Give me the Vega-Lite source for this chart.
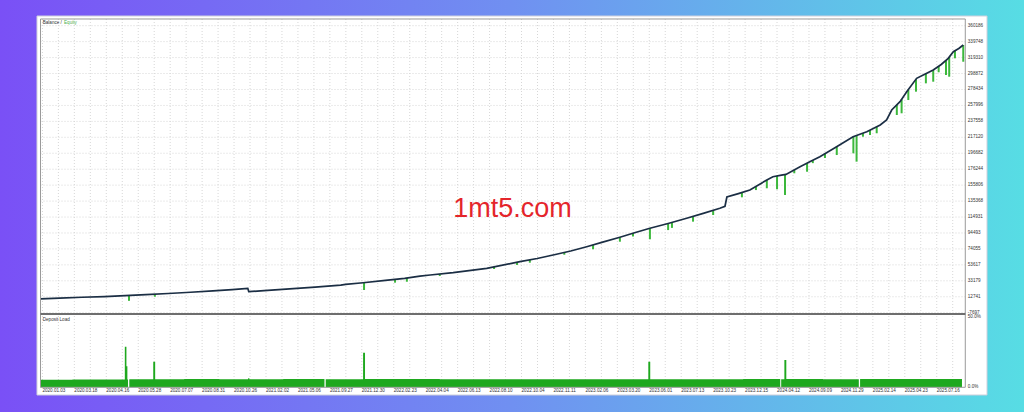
{
  "$schema": "https://vega.github.io/schema/vega-lite/v6.json",
  "width": 1024,
  "height": 412,
  "autosize": {"type": "none"},
  "padding": 0,
  "background": "#7090f1",
  "config": {"view": {"stroke": null}, "text": {"font": "Liberation Sans"}},
  "datasets": {
    "balance": [
      {"n": 0, "balance": 10000}, {"n": 60, "balance": 11000}, {"n": 130, "balance": 12100}, {"n": 200, "balance": 13000},
      {"n": 265, "balance": 14100}, {"n": 330, "balance": 15400}, {"n": 400, "balance": 16900}, {"n": 470, "balance": 18500},
      {"n": 540, "balance": 20400}, {"n": 600, "balance": 22000}, {"n": 649, "balance": 23600}, {"n": 652, "balance": 19300},
      {"n": 700, "balance": 20500}, {"n": 780, "balance": 22800}, {"n": 860, "balance": 25200}, {"n": 940, "balance": 27700},
      {"n": 955, "balance": 28700}, {"n": 1010, "balance": 30700}, {"n": 1080, "balance": 33700}, {"n": 1140, "balance": 36400},
      {"n": 1188, "balance": 39300}, {"n": 1220, "balance": 40600}, {"n": 1292, "balance": 43600}, {"n": 1397, "balance": 49200},
      {"n": 1501, "balance": 57700}, {"n": 1555, "balance": 61800}, {"n": 1605, "balance": 66300}, {"n": 1660, "balance": 71400},
      {"n": 1710, "balance": 76900}, {"n": 1760, "balance": 82700}, {"n": 1814, "balance": 89000}, {"n": 1860, "balance": 94800},
      {"n": 1908, "balance": 100500}, {"n": 1965, "balance": 106600}, {"n": 2023, "balance": 113300}, {"n": 2075, "balance": 119600},
      {"n": 2127, "balance": 126100}, {"n": 2143, "balance": 128700}, {"n": 2149, "balance": 140600}, {"n": 2185, "balance": 145000},
      {"n": 2221, "balance": 149600}, {"n": 2274, "balance": 162400}, {"n": 2293, "balance": 166600}, {"n": 2320, "balance": 168700},
      {"n": 2334, "balance": 169500}, {"n": 2378, "balance": 179400}, {"n": 2410, "balance": 186000}, {"n": 2440, "balance": 192300},
      {"n": 2490, "balance": 204500}, {"n": 2544, "balance": 217900}, {"n": 2587, "balance": 224300}, {"n": 2629, "balance": 232900},
      {"n": 2649, "balance": 239300}, {"n": 2665, "balance": 252100}, {"n": 2691, "balance": 262800}, {"n": 2712, "balance": 275600},
      {"n": 2743, "balance": 292700}, {"n": 2770, "balance": 298400}, {"n": 2795, "balance": 303400}, {"n": 2820, "balance": 310500},
      {"n": 2842, "balance": 318400}, {"n": 2858, "balance": 326900}, {"n": 2875, "balance": 331000}, {"n": 2889, "balance": 335400}
    ],
    "equity": [
      {"n": 277, "top": 14340, "low": 7500}, {"n": 358, "top": 16000, "low": 12800}, {"n": 1013, "top": 30830, "low": 21400},
      {"n": 1110, "top": 35050, "low": 30800}, {"n": 1147, "top": 36820, "low": 32000}, {"n": 1250, "top": 41800, "low": 39300},
      {"n": 1420, "top": 50900, "low": 48300}, {"n": 1492, "top": 56960, "low": 53500}, {"n": 1532, "top": 60050, "low": 56400},
      {"n": 1640, "top": 69800, "low": 66600}, {"n": 1730, "top": 79200, "low": 73600}, {"n": 1814, "top": 89000, "low": 83300},
      {"n": 1855, "top": 94170, "low": 90000}, {"n": 1908, "top": 100500, "low": 86400}, {"n": 1965, "top": 106600, "low": 98200},
      {"n": 1977, "top": 107990, "low": 101000}, {"n": 2043, "top": 115720, "low": 109000}, {"n": 2106, "top": 123480, "low": 117500},
      {"n": 2196, "top": 146400, "low": 140200}, {"n": 2240, "top": 153800, "low": 149500}, {"n": 2274, "top": 162400, "low": 151800},
      {"n": 2306, "top": 167600, "low": 150500}, {"n": 2331, "top": 169300, "low": 143200}, {"n": 2360, "top": 175400, "low": 171000},
      {"n": 2400, "top": 183900, "low": 173000}, {"n": 2418, "top": 187700, "low": 184000},
      {"n": 2456, "top": 196200, "low": 190600}, {"n": 2493, "top": 205300, "low": 194400}, {"n": 2545, "top": 217950, "low": 196600},
      {"n": 2555, "top": 219500, "low": 185900}, {"n": 2575, "top": 222500, "low": 217900}, {"n": 2597, "top": 226350, "low": 220100},
      {"n": 2618, "top": 230600, "low": 222300}, {"n": 2681, "top": 258700, "low": 245700}, {"n": 2696, "top": 265850, "low": 247900},
      {"n": 2717, "top": 278360, "low": 264900}, {"n": 2741, "top": 291600, "low": 275600}, {"n": 2772, "top": 298800, "low": 286300},
      {"n": 2795, "top": 303400, "low": 288400}, {"n": 2812, "top": 308200, "low": 300500}, {"n": 2835, "top": 315900, "low": 297000},
      {"n": 2845, "top": 320000, "low": 294800}, {"n": 2863, "top": 328100, "low": 318400}, {"n": 2889, "top": 335400, "low": 314000}
    ],
    "load": [
      {"n": 0, "load": 0.054}, {"n": 100, "load": 0.056}, {"n": 190, "load": 0.055}, {"n": 264, "load": 0.29},
      {"n": 269, "load": 0.15}, {"n": 272, "load": 0.056}, {"n": 274, "load": 0}, {"n": 278, "load": 0.058},
      {"n": 353, "load": 0.183}, {"n": 359, "load": 0.058}, {"n": 450, "load": 0.059}, {"n": 560, "load": 0.058},
      {"n": 650, "load": 0.064}, {"n": 654, "load": 0.058}, {"n": 760, "load": 0.059}, {"n": 889, "load": 0},
      {"n": 893, "load": 0.058}, {"n": 1010, "load": 0.247}, {"n": 1016, "load": 0.06}, {"n": 1120, "load": 0.059},
      {"n": 1250, "load": 0.058}, {"n": 1380, "load": 0.057}, {"n": 1500, "load": 0.057}, {"n": 1620, "load": 0.058},
      {"n": 1760, "load": 0.058}, {"n": 1903, "load": 0.183}, {"n": 1909, "load": 0.058}, {"n": 2050, "load": 0.058},
      {"n": 2200, "load": 0.059}, {"n": 2316, "load": 0}, {"n": 2319, "load": 0.058}, {"n": 2329, "load": 0.195},
      {"n": 2335, "load": 0.06}, {"n": 2450, "load": 0.058}, {"n": 2562, "load": 0}, {"n": 2566, "load": 0.059},
      {"n": 2700, "load": 0.06}, {"n": 2800, "load": 0.059}, {"n": 2885, "load": 0.059}
    ],
    "gx": [
      {"n": 6}, {"n": 56}, {"n": 106}, {"n": 156}, {"n": 206}, {"n": 256}, {"n": 306}, {"n": 356}, {"n": 406}, {"n": 456},
      {"n": 506}, {"n": 556}, {"n": 606}, {"n": 656}, {"n": 706}, {"n": 756}, {"n": 806}, {"n": 856}, {"n": 906}, {"n": 956},
      {"n": 1006}, {"n": 1056}, {"n": 1106}, {"n": 1156}, {"n": 1206}, {"n": 1256}, {"n": 1306}, {"n": 1356}, {"n": 1406}, {"n": 1456},
      {"n": 1506}, {"n": 1556}, {"n": 1606}, {"n": 1656}, {"n": 1706}, {"n": 1756}, {"n": 1806}, {"n": 1856}, {"n": 1906}, {"n": 1956},
      {"n": 2006}, {"n": 2056}, {"n": 2106}, {"n": 2156}, {"n": 2206}, {"n": 2256}, {"n": 2306}, {"n": 2356}, {"n": 2406}, {"n": 2456},
      {"n": 2506}, {"n": 2556}, {"n": 2606}, {"n": 2656}, {"n": 2706}, {"n": 2756}, {"n": 2806}, {"n": 2856}
    ],
    "gy": [
      {"v": -7697}, {"v": 12741}, {"v": 33179}, {"v": 53617}, {"v": 74055}, {"v": 94493}, {"v": 114931}, {"v": 135368},
      {"v": 155806}, {"v": 176244}, {"v": 196682}, {"v": 217120}, {"v": 237558}, {"v": 257996}, {"v": 278434}, {"v": 298872},
      {"v": 319310}, {"v": 339748}, {"v": 360186}
    ],
    "xlabels": [
      {"n": 6, "d": "2020.01.03"}, {"n": 106, "d": "2020.03.18"}, {"n": 206, "d": "2020.04.16"}, {"n": 306, "d": "2020.05.28"},
      {"n": 406, "d": "2020.07.07"}, {"n": 506, "d": "2020.08.31"}, {"n": 606, "d": "2020.10.26"}, {"n": 706, "d": "2021.02.02"},
      {"n": 806, "d": "2021.05.06"}, {"n": 906, "d": "2021.09.27"}, {"n": 1006, "d": "2021.12.30"}, {"n": 1106, "d": "2022.02.23"},
      {"n": 1206, "d": "2022.04.04"}, {"n": 1306, "d": "2022.06.13"}, {"n": 1406, "d": "2022.08.10"}, {"n": 1506, "d": "2022.10.04"},
      {"n": 1606, "d": "2022.11.11"}, {"n": 1706, "d": "2023.02.06"}, {"n": 1806, "d": "2023.03.20"}, {"n": 1906, "d": "2023.06.01"},
      {"n": 2006, "d": "2023.07.13"}, {"n": 2106, "d": "2023.10.23"}, {"n": 2206, "d": "2023.12.15"}, {"n": 2306, "d": "2024.04.12"},
      {"n": 2406, "d": "2024.09.09"}, {"n": 2506, "d": "2024.11.29"}, {"n": 2606, "d": "2025.02.14"}, {"n": 2706, "d": "2025.04.23"},
      {"n": 2806, "d": "2025.07.16"}
    ],
    "loadlabels": [{"p": 0, "t": "0.0%"}, {"p": 0.5, "t": "50.0%"}]
  },
  "resolve": {"scale": {"y": "independent"}, "axis": {"y": "independent"}},
  "layer": [
    {
      "layer": [
        {
          "data": {"values": [{}]},
          "mark": {"type": "rect", "fill": {"gradient": "linear", "x1": 0, "y1": 0, "x2": 1, "y2": 0, "stops": [{"offset": 0, "color": "#7a50f6"}, {"offset": 0.5, "color": "#7090f1"}, {"offset": 1, "color": "#57dde4"}]}},
          "encoding": {
            "x": {"datum": -126.8, "type": "quantitative", "scale": {"domain": [-126.8, 3079.2], "nice": false, "zero": false}, "axis": null},
            "x2": {"datum": 3079.2},
            "y": {"datum": -134980, "type": "quantitative", "scale": {"domain": [-134980, 393122], "nice": false, "zero": false}, "axis": null},
            "y2": {"datum": 393122}
          }
        },
        {
          "data": {"values": [{}]},
          "mark": {"type": "rect", "fill": "#ffffff", "stroke": "#cfd0dc", "strokeWidth": 1},
          "encoding": {
            "x": {"datum": -10.96, "type": "quantitative", "scale": {"domain": [-126.8, 3079.2], "nice": false, "zero": false}, "axis": null},
            "x2": {"datum": 2963.4},
            "y": {"datum": 372607, "type": "quantitative", "scale": {"domain": [-134980, 393122], "nice": false, "zero": false}, "axis": null},
            "y2": {"datum": -113189}
          }
        },
        {
          "data": {"name": "gy"},
          "mark": {"type": "rule", "color": "#d6d6d6", "strokeWidth": 1, "strokeDash": [1, 2]},
          "encoding": {
            "y": {"field": "v", "type": "quantitative", "scale": {"domain": [-134980, 393122], "nice": false, "zero": false}, "axis": null},
            "x": {"datum": 0, "type": "quantitative", "scale": {"domain": [-126.8, 3079.2], "nice": false, "zero": false}, "axis": null},
            "x2": {"datum": 2895.4}
          }
        },
        {
          "data": {"name": "gx"},
          "mark": {"type": "rule", "color": "#d6d6d6", "strokeWidth": 1, "strokeDash": [1, 2]},
          "encoding": {
            "x": {"field": "n", "type": "quantitative", "scale": {"domain": [-126.8, 3079.2], "nice": false, "zero": false}, "axis": null},
            "y": {"datum": 368768, "type": "quantitative", "scale": {"domain": [-134980, 393122], "nice": false, "zero": false}, "axis": null},
            "y2": {"datum": -103319}
          }
        },
        {
          "data": {"values": [{}]},
          "mark": {"type": "text", "text": "1mt5.com", "color": "#e4252b", "fontSize": 27, "align": "center", "baseline": "alphabetic", "font": "Liberation Sans"},
          "encoding": {
            "x": {"datum": 1478, "type": "quantitative", "scale": {"domain": [-126.8, 3079.2], "nice": false, "zero": false}, "axis": null},
            "y": {"datum": 115356, "type": "quantitative", "scale": {"domain": [-134980, 393122], "nice": false, "zero": false}, "axis": null}
          }
        },
        {
          "data": {"name": "equity"},
          "mark": {"type": "rule", "color": "#3cb83c", "strokeWidth": 2},
          "encoding": {
            "x": {"field": "n", "type": "quantitative", "scale": {"domain": [-126.8, 3079.2], "nice": false, "zero": false}, "axis": null},
            "y": {"field": "top", "type": "quantitative", "scale": {"domain": [-134980, 393122], "nice": false, "zero": false}, "axis": null},
            "y2": {"field": "low"}
          }
        },
        {
          "data": {"name": "balance"},
          "mark": {"type": "line", "color": "#1b2e44", "strokeWidth": 1.7},
          "encoding": {
            "x": {"field": "n", "type": "quantitative", "scale": {"domain": [-126.8, 3079.2], "nice": false, "zero": false}, "axis": null},
            "y": {"field": "balance", "type": "quantitative", "scale": {"domain": [-134980, 393122], "nice": false, "zero": false}, "axis": null}
          }
        },
        {
          "data": {"name": "gy"},
          "mark": {"type": "text", "color": "#333333", "fontSize": 4.6, "align": "left", "baseline": "middle"},
          "encoding": {
            "y": {"field": "v", "type": "quantitative", "scale": {"domain": [-134980, 393122], "nice": false, "zero": false}, "axis": null},
            "x": {"datum": 2903.3, "type": "quantitative", "scale": {"domain": [-126.8, 3079.2], "nice": false, "zero": false}, "axis": null},
            "text": {"field": "v", "type": "nominal"}
          }
        },
        {
          "data": {"name": "xlabels"},
          "mark": {"type": "text", "color": "#333333", "fontSize": 4.6, "align": "left", "baseline": "top"},
          "encoding": {
            "x": {"field": "n", "type": "quantitative", "scale": {"domain": [-126.8, 3079.2], "nice": false, "zero": false}, "axis": null},
            "y": {"datum": -104601, "type": "quantitative", "scale": {"domain": [-134980, 393122], "nice": false, "zero": false}, "axis": null},
            "text": {"field": "d", "type": "nominal"}
          }
        },
        {
          "data": {"values": [{}]},
          "mark": {"type": "text", "text": "Balance /", "color": "#333333", "fontSize": 4.6, "align": "left", "baseline": "middle"},
          "encoding": {
            "x": {"datum": 6.9, "type": "quantitative", "scale": {"domain": [-126.8, 3079.2], "nice": false, "zero": false}, "axis": null},
            "y": {"datum": 363259, "type": "quantitative", "scale": {"domain": [-134980, 393122], "nice": false, "zero": false}, "axis": null}
          }
        },
        {
          "data": {"values": [{}]},
          "mark": {"type": "text", "text": "Equity", "color": "#4caf50", "fontSize": 4.6, "align": "left", "baseline": "middle"},
          "encoding": {
            "x": {"datum": 73.7, "type": "quantitative", "scale": {"domain": [-126.8, 3079.2], "nice": false, "zero": false}, "axis": null},
            "y": {"datum": 363259, "type": "quantitative", "scale": {"domain": [-134980, 393122], "nice": false, "zero": false}, "axis": null}
          }
        },
        {
          "data": {"values": [{}]},
          "mark": {"type": "rect", "filled": false, "color": "#9a9a9a", "strokeWidth": 1},
          "encoding": {
            "x": {"datum": 0, "type": "quantitative", "scale": {"domain": [-126.8, 3079.2], "nice": false, "zero": false}, "axis": null},
            "x2": {"datum": 2895.4},
            "y": {"datum": 368768, "type": "quantitative", "scale": {"domain": [-134980, 393122], "nice": false, "zero": false}, "axis": null},
            "y2": {"datum": -9363}
          }
        }
      ]
    },
    {
      "layer": [
        {
          "data": {"name": "load"},
          "mark": {"type": "area", "interpolate": "step-after", "color": "#1ea81e"},
          "encoding": {
            "x": {"field": "n", "type": "quantitative", "scale": {"domain": [-126.8, 3079.2], "nice": false, "zero": false}, "axis": null},
            "y": {"field": "load", "type": "quantitative", "scale": {"domain": [-0.1764, 2.7664], "nice": false, "zero": false}, "axis": null},
            "y2": {"datum": 0}
          }
        },
        {
          "data": {"name": "loadlabels"},
          "mark": {"type": "text", "color": "#333333", "fontSize": 4.6, "align": "left", "baseline": "middle"},
          "encoding": {
            "y": {"field": "p", "type": "quantitative", "scale": {"domain": [-0.1764, 2.7664], "nice": false, "zero": false}, "axis": null},
            "x": {"datum": 2903.3, "type": "quantitative", "scale": {"domain": [-126.8, 3079.2], "nice": false, "zero": false}, "axis": null},
            "text": {"field": "t", "type": "nominal"}
          }
        },
        {
          "data": {"values": [{}]},
          "mark": {"type": "rect", "filled": false, "color": "#9a9a9a", "strokeWidth": 1},
          "encoding": {
            "x": {"datum": 0, "type": "quantitative", "scale": {"domain": [-126.8, 3079.2], "nice": false, "zero": false}, "axis": null},
            "x2": {"datum": 2895.4},
            "y": {"datum": 0.5236, "type": "quantitative", "scale": {"domain": [-0.1764, 2.7664], "nice": false, "zero": false}, "axis": null},
            "y2": {"datum": 0}
          }
        },
        {
          "data": {"values": [{}]},
          "mark": {"type": "rule", "color": "#6e6e6e", "strokeWidth": 2},
          "encoding": {
            "x": {"datum": 0, "type": "quantitative", "scale": {"domain": [-126.8, 3079.2], "nice": false, "zero": false}, "axis": null},
            "x2": {"datum": 2895.4},
            "y": {"datum": 0.5236, "type": "quantitative", "scale": {"domain": [-0.1764, 2.7664], "nice": false, "zero": false}, "axis": null}
          }
        },
        {
          "data": {"values": [{}]},
          "mark": {"type": "text", "text": "Deposit Load", "color": "#333333", "fontSize": 4.6, "align": "left", "baseline": "middle"},
          "encoding": {
            "x": {"datum": 6.9, "type": "quantitative", "scale": {"domain": [-126.8, 3079.2], "nice": false, "zero": false}, "axis": null},
            "y": {"datum": 0.483, "type": "quantitative", "scale": {"domain": [-0.1764, 2.7664], "nice": false, "zero": false}, "axis": null}
          }
        }
      ]
    }
  ]
}
